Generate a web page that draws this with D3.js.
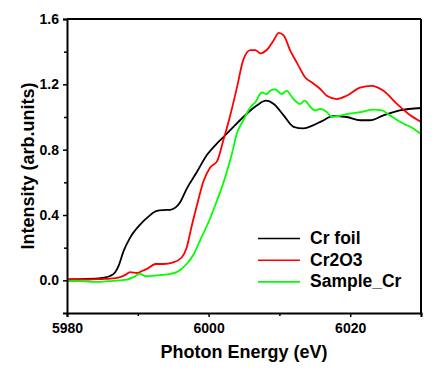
<!DOCTYPE html>
<html>
<head>
<meta charset="utf-8">
<script src="https://d3js.org/d3.v7.min.js"></script>
<style>
  body { margin: 0; background: #fff; }
  text { font-family: "Liberation Sans", Arial, sans-serif; font-weight: bold; fill: #000; }
</style>
</head>
<body>
<div id="chartContainer"></div>
<script>
// values
var crFoilE = [5980, 5982, 5984, 5985, 5986, 5986.8, 5987.3, 5988, 5988.9, 5990.3, 5991.5, 5992.7, 5993.7, 5994.6, 5995.3, 5996, 5996.9, 5998.3, 5999.8, 6001, 6002.1, 6003.5, 6005.4, 6006.8, 6008.1, 6009.2, 6010.6, 6012, 6013.4, 6014.8, 6016, 6017.6, 6019.5, 6021.4, 6022.8, 6024.7, 6027, 6030];
var crFoilI = [0.005, 0.008, 0.01, 0.015, 0.025, 0.05, 0.09, 0.18, 0.26, 0.34, 0.39, 0.425, 0.43, 0.432, 0.445, 0.48, 0.56, 0.66, 0.77, 0.83, 0.877, 0.94, 1.02, 1.07, 1.10, 1.08, 1.01, 0.94, 0.93, 0.95, 0.975, 1.005, 1.0, 0.98, 0.98, 1.01, 1.04, 1.055];

var cr2o3E = [5980, 5983, 5985, 5986.1, 5987.5, 5988.3, 5988.9, 5989.9, 5990.5, 5991.3, 5992.5, 5993.6, 5995, 5996.2, 5996.9, 5997.6, 5998.3, 5999.3, 6000.2, 6001.2, 6002.1, 6003, 6004, 6004.9, 6005.9, 6006.6, 6007.3, 6008.2, 6009.2, 6009.9, 6010.6, 6011.5, 6012.5, 6013.6, 6014.8, 6015.8, 6016.7, 6018.1, 6019.5, 6021.4, 6023, 6024.7, 6026.6, 6028.2, 6030];
var cr2o3I = [0.005, 0.005, 0.008, 0.01, 0.02, 0.035, 0.05, 0.045, 0.055, 0.07, 0.10, 0.10, 0.11, 0.14, 0.20, 0.33, 0.45, 0.61, 0.69, 0.73, 0.86, 1.0, 1.18, 1.35, 1.41, 1.41, 1.39, 1.41, 1.47, 1.515, 1.50, 1.41, 1.33, 1.245, 1.205, 1.17, 1.13, 1.11, 1.13, 1.18, 1.19, 1.16, 1.08, 1.02, 0.97];

var sampleE = [5980, 5982, 5984, 5986, 5987.5, 5988.5, 5989.4, 5990.3, 5991.1, 5992.7, 5994.6, 5995.5, 5996.9, 5997.9, 5998.8, 6000, 6001.2, 6002.3, 6003.3, 6004, 6004.9, 6005.9, 6006.6, 6007.5, 6008.2, 6008.7, 6009.4, 6010.3, 6011, 6012, 6012.9, 6013.6, 6014.3, 6015, 6015.8, 6016.7, 6017.4, 6019.5, 6021.4, 6023.3, 6024.5, 6025.6, 6027.5, 6028.9, 6030];
var sampleI = [-0.005, -0.005, -0.01, -0.005, 0.0, 0.005, 0.02, 0.04, 0.025, 0.03, 0.04, 0.05, 0.10, 0.16, 0.245, 0.357, 0.49, 0.625, 0.776, 0.90, 0.98, 1.06, 1.09, 1.15, 1.14, 1.16, 1.17, 1.14, 1.16, 1.11, 1.08, 1.10, 1.065, 1.04, 1.05, 1.03, 1.0, 1.017, 1.03, 1.045, 1.04, 1.01, 0.96, 0.93, 0.895];

var seriesNames = ["Cr foil", "Cr2O3", "Sample_Cr"];
var seriesColors = ["#000000", "#ff0000", "#00ff00"];
var xTicks = [5980, 6000, 6020];
var yTicks = [0.0, 0.4, 0.8, 1.2, 1.6];

function drawChart() {
  var svg = d3.select("#chartContainer").append("svg")
      .attr("width", 445).attr("height", 372);

  var left = 67, right = 421, top = 19, bottom = 313;
  var x = d3.scaleLinear().domain([5980, 6030]).range([left, right]);
  var y = d3.scaleLinear().domain([-0.2, 1.6]).range([bottom, top]);

  var series = [
    d3.zip(crFoilE, crFoilI),
    d3.zip(cr2o3E, cr2o3I),
    d3.zip(sampleE, sampleI)
  ];

  var line = d3.line()
      .x(function (d) { return x(d[0]); })
      .y(function (d) { return y(d[1]); })
      .curve(d3.curveMonotoneX);

  // curves first, then frame on top
  series.forEach(function (s, i) {
    svg.append("path")
        .datum(s)
        .attr("d", line)
        .attr("fill", "none")
        .attr("stroke", seriesColors[i])
        .attr("stroke-width", 1.8);
  });

  // frame (top and right)
  svg.append("line").attr("x1", left).attr("x2", right).attr("y1", top).attr("y2", top)
      .attr("stroke", "#000").attr("stroke-width", 2);
  svg.append("line").attr("x1", right).attr("x2", right).attr("y1", top).attr("y2", bottom)
      .attr("stroke", "#000").attr("stroke-width", 2);

  // bottom axis
  var xAxis = svg.append("g")
      .attr("transform", "translate(0," + bottom + ")")
      .call(d3.axisBottom(x).tickValues(xTicks).tickSize(4).tickPadding(6).tickFormat(d3.format("d")));
  svg.append("g")
      .attr("transform", "translate(0," + bottom + ")")
      .call(d3.axisBottom(x).tickValues([5990, 6010, 6030]).tickSize(3).tickFormat(""))
      .select(".domain").remove();

  // left axis
  var yAxis = svg.append("g")
      .attr("transform", "translate(" + left + ",0)")
      .call(d3.axisLeft(y).tickValues(yTicks).tickSize(4).tickPadding(4).tickFormat(d3.format(".1f")));
  svg.append("g")
      .attr("transform", "translate(" + left + ",0)")
      .call(d3.axisLeft(y).tickValues([0.2, 0.6, 1.0, 1.4]).tickSize(3).tickFormat(""))
      .select(".domain").remove();

  svg.selectAll(".domain").attr("stroke", "#000").attr("stroke-width", 2);
  svg.selectAll(".tick line").attr("stroke", "#000").attr("stroke-width", 1.5);
  xAxis.selectAll("text").style("font-size", "14px").style("font-family", "Liberation Sans, Arial, sans-serif").style("font-weight", "bold");
  yAxis.selectAll("text").style("font-size", "14px").style("font-family", "Liberation Sans, Arial, sans-serif").style("font-weight", "bold");

  // axis titles
  svg.append("text")
      .attr("x", (left + right) / 2).attr("y", 358)
      .attr("text-anchor", "middle")
      .style("font-size", "18px")
      .text("Photon Energy (eV)");
  svg.append("text")
      .attr("transform", "translate(34," + (top + bottom) / 2 + ") rotate(-90)")
      .attr("text-anchor", "middle")
      .style("font-size", "18px")
      .text("Intensity (arb.units)");

  // legend
  var legend = svg.append("g");
  seriesNames.forEach(function (name, i) {
    var ly = 238.5 + i * 21.7;
    legend.append("line")
        .attr("x1", 258).attr("x2", 300).attr("y1", ly).attr("y2", ly)
        .attr("stroke", seriesColors[i]).attr("stroke-width", 1.6);
    legend.append("text")
        .attr("x", 310).attr("y", ly + 5.5)
        .style("font-size", "17.5px")
        .text(name);
  });
}

drawChart();
</script>
</body>
</html>
